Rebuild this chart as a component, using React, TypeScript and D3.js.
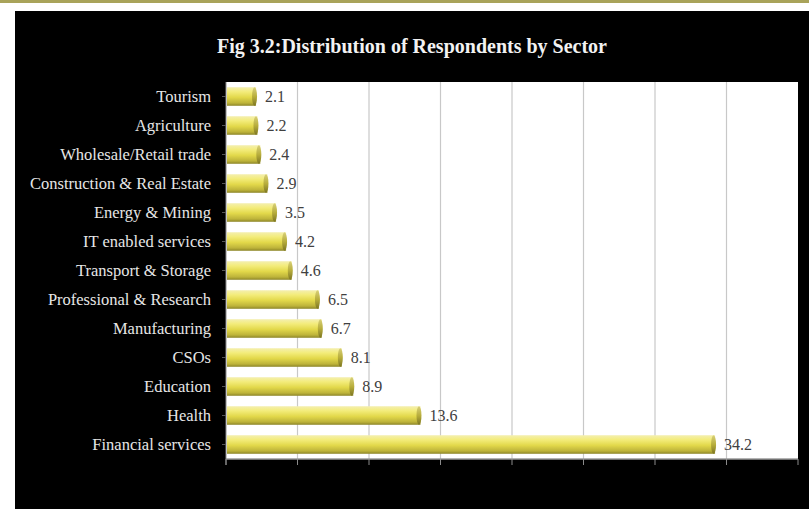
import * as d3 from 'd3';

const categories = [
  'Tourism',
  'Agriculture',
  'Wholesale/Retail trade',
  'Construction & Real Estate',
  'Energy & Mining',
  'IT enabled services',
  'Transport & Storage',
  'Professional & Research',
  'Manufacturing',
  'CSOs',
  'Education',
  'Health',
  'Financial services',
];
const values = [2.1, 2.2, 2.4, 2.9, 3.5, 4.2, 4.6, 6.5, 6.7, 8.1, 8.9, 13.6, 34.2];
const xTicks = [0, 5, 10, 15, 20, 25, 30, 35, 40];

const W = 809;
const H = 509;
const plot = { left: 226, right: 798, top: 82, bottom: 459 };

export default function App() {
  const x = d3.scaleLinear().domain([0, 40]).range([plot.left, plot.right]);
  const y = d3
    .scaleBand<string>()
    .domain(categories)
    .range([plot.top, plot.bottom])
    .paddingInner(0.36)
    .paddingOuter(0.18);
  const bh = y.bandwidth();

  return (
    <div style={{ position: 'absolute', left: 0, top: 0 }}>
      <svg width={W} height={H} style={{ display: 'block' }}>
        <defs>
          <linearGradient id="barGrad" x1="0" y1="0" x2="0" y2="1">
            <stop offset="0%" stopColor="#f4efb0" />
            <stop offset="25%" stopColor="#f3ec7a" />
            <stop offset="55%" stopColor="#e2d84a" />
            <stop offset="85%" stopColor="#bdb33a" />
            <stop offset="100%" stopColor="#8c8528" />
          </linearGradient>
          <linearGradient id="capGrad" x1="0" y1="0" x2="0" y2="1">
            <stop offset="0%" stopColor="#d8d07a" />
            <stop offset="50%" stopColor="#b8ae3c" />
            <stop offset="100%" stopColor="#7c7522" />
          </linearGradient>
        </defs>
        <rect x={0} y={0} width={W} height={H} fill="#ffffff" />
        <rect x={0} y={0} width={W} height={3} fill="#a9a35a" />
        <rect x={15} y={11} width={W - 15} height={H - 11} fill="#000000" />
        <text
          x={412}
          y={53}
          textAnchor="middle"
          fill="#f2f2f2"
          fontFamily="'Liberation Serif', serif"
          fontWeight="bold"
          fontSize={20}
        >
          Fig 3.2:Distribution of Respondents by Sector
        </text>

        <rect
          x={plot.left}
          y={plot.top}
          width={plot.right - plot.left}
          height={plot.bottom - plot.top}
          fill="#ffffff"
        />
        {xTicks.map((t) => (
          <g key={t}>
            {t > 0 && t < 40 && (
              <line x1={x(t)} x2={x(t)} y1={plot.top} y2={plot.bottom} stroke="#c8c8c8" strokeWidth={1.2} />
            )}
            <line x1={x(t)} x2={x(t)} y1={plot.bottom} y2={plot.bottom + 6} stroke="#8a8a8a" strokeWidth={1} />
          </g>
        ))}
        <line x1={plot.left} x2={plot.right} y1={plot.bottom} y2={plot.bottom} stroke="#9a9a9a" strokeWidth={1.5} />
        <line x1={plot.left} x2={plot.left} y1={plot.top} y2={plot.bottom + 6} stroke="#8a8a8a" strokeWidth={1} />
        {categories.map((c) => (
          <line
            key={c}
            x1={plot.left - 4}
            x2={plot.left}
            y1={(y(c) ?? 0) + bh / 2}
            y2={(y(c) ?? 0) + bh / 2}
            stroke="#555"
          />
        ))}

        {categories.map((c, i) => {
          const y0 = y(c) ?? 0;
          const x1 = x(values[i]);
          return (
            <g key={c}>
              <rect x={plot.left + 1} y={y0} width={x1 - plot.left - 1} height={bh} fill="url(#barGrad)" />
              <ellipse cx={x1 - 1.5} cy={y0 + bh / 2} rx={2.5} ry={bh / 2} fill="url(#capGrad)" />
              <text
                x={plot.left - 15}
                y={y0 + bh / 2}
                dy="0.35em"
                textAnchor="end"
                fill="#e6e6e6"
                fontFamily="'Liberation Serif', serif"
                fontSize={16.5}
              >
                {c}
              </text>
              <text
                x={x1 + 9}
                y={y0 + bh / 2}
                dy="0.35em"
                fill="#404040"
                fontFamily="'Liberation Serif', serif"
                fontSize={16}
              >
                {values[i]}
              </text>
            </g>
          );
        })}
      </svg>
    </div>
  );
}
